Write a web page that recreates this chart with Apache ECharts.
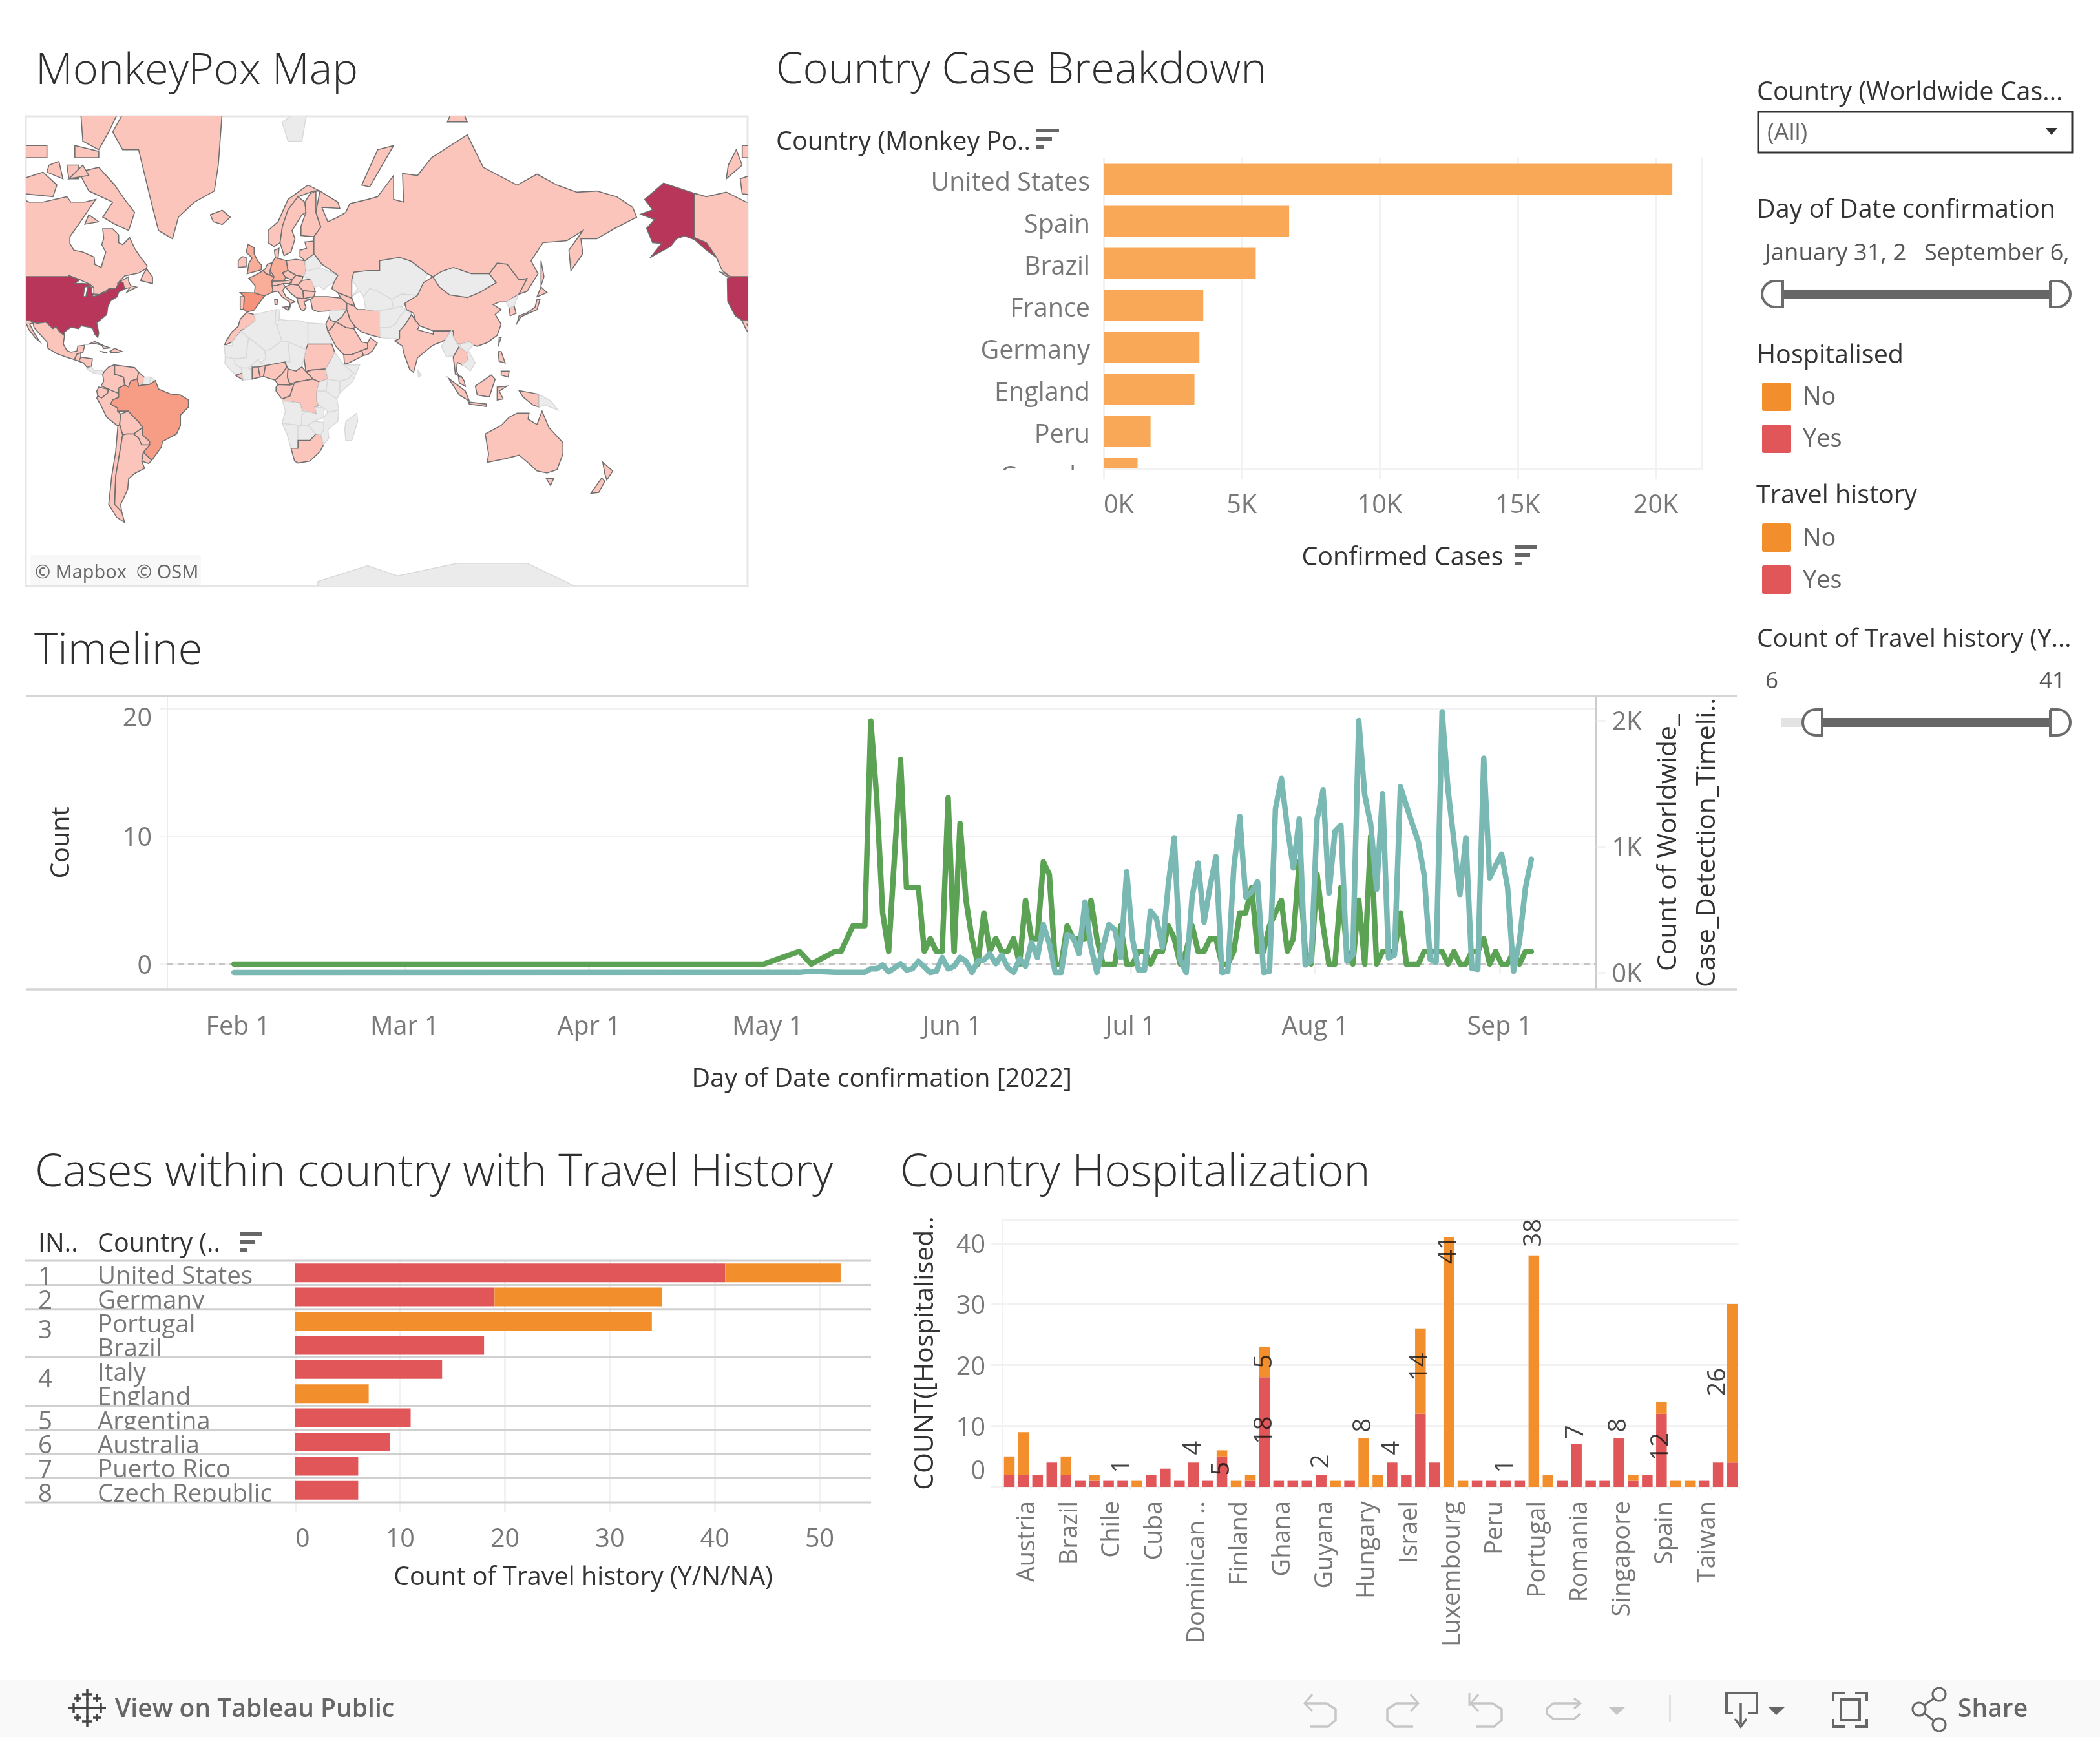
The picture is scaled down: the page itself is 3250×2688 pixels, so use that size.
<!DOCTYPE html>
<html><head><meta charset="utf-8">
<style>html,body{margin:0;padding:0;background:#fff}#c{width:3250px;height:2688px}</style>
<script src="https://cdn.jsdelivr.net/npm/echarts@6/dist/echarts.min.js"></script>
</head><body><div id="c"></div>
<script>
const FONT = '"Open Sans"';
const GREY_TXT = '#787878', DARK_TXT = '#333333';
const RED = '#e15759', ORANGE = '#f28e2b', BAR_LIGHT = '#f9a857', GRID = '#f2f2f2';

/* Country Case Breakdown */
const caseCountries = ['United States','Spain','Brazil','France','Germany','England','Peru','Canada'];
const caseValues = [20600,6720,5510,3610,3470,3290,1700,1230];

/* Timeline: [days from 1 June 2022, value] */
const greenPoints = [[-121,0],[-32,0],[-26,1],[-24,0],[-20,1],[-19,1],[-17,3],[-15,3],[-14,19],[-13,13],[-12,4],[-11,1],[-9,16],[-8,6],[-6,6],[-5,1],[-4,2],[-3,1],[-2,1],[-1,13],[0,1],[1,11],[2,5],[3,2],[4,0],[5,4],[6,1],[7,2],[8,1],[9,1],[10,2],[11,0],[12,5],[13,2],[14,2],[15,8],[16,7],[17,0],[18,0],[19,3],[20,2],[21,2],[22,2],[23,5],[24,2],[25,0],[26,0],[27,0],[28,3],[29,0],[30,0],[31,1],[32,1],[33,0],[34,1],[35,1],[36,3],[37,2],[38,0],[39,1],[40,3],[41,1],[42,1],[43,2],[44,2],[45,0],[46,0],[47,1],[48,4],[49,4],[50,6],[51,1],[52,1],[53,3],[54,4],[55,5],[56,1],[57,2],[58,8],[59,1],[60,0],[61,7],[62,3],[63,0],[64,0],[65,6],[66,1],[67,0],[68,5],[69,0],[70,10],[71,0],[72,1],[73,1],[74,1],[75,4],[76,0],[77,0],[78,0],[79,1],[80,1],[81,1],[82,1],[83,0],[84,1],[85,0],[86,0],[87,1],[88,1],[89,2],[90,0],[91,1],[92,0],[93,0],[94,1],[95,0],[96,1],[97,1]];
const tealPoints = [[-121,0],[-32,2],[-26,1],[-24,10],[-20,2],[-15,2],[-14,30],[-13,30],[-12,60],[-11,5],[-9,70],[-8,20],[-7,30],[-6,90],[-4,0],[-3,10],[-2,120],[-1,30],[0,50],[1,120],[2,90],[3,0],[4,90],[5,100],[6,150],[7,70],[8,140],[9,40],[10,0],[11,110],[12,50],[13,240],[14,120],[15,380],[16,230],[17,0],[18,0],[19,300],[20,280],[21,150],[22,560],[23,200],[24,0],[25,200],[26,380],[27,340],[28,120],[29,800],[30,260],[31,20],[32,20],[33,490],[34,430],[35,200],[36,700],[37,1070],[38,100],[39,0],[40,600],[41,870],[42,400],[43,680],[44,920],[45,0],[46,10],[47,830],[48,1240],[49,600],[50,640],[51,720],[52,0],[53,10],[54,1300],[55,1540],[56,1150],[57,830],[58,1220],[59,60],[60,90],[61,1220],[62,1450],[63,630],[64,1120],[65,1170],[66,90],[67,140],[68,2000],[69,1410],[70,1180],[71,660],[72,1420],[73,115],[74,140],[75,1475],[76,1325],[77,1180],[78,1040],[79,770],[80,105],[81,80],[82,2070],[83,1450],[84,1040],[85,620],[86,1070],[87,35],[88,25],[89,1700],[90,750],[91,850],[92,940],[93,680],[94,10],[95,245],[96,670],[97,900]];
const monthTicks = [[1,'Feb 1'],[2,'Mar 1'],[3,'Apr 1'],[4,'May 1'],[5,'Jun 1'],[6,'Jul 1'],[7,'Aug 1'],[8,'Sep 1']];

/* Cases within country with Travel History */
const travelCountries = ['United States','Germany','Portugal','Brazil','Italy','England','Argentina','Australia','Puerto Rico','Czech Republic'];
const travelYes = [41,19,0,18,14,0,11,9,6,6];
const travelNo  = [11,16,34,0,0,7,0,0,0,0];
const travelRanks = [[1,0,1],[2,1,2],[3,2,4],[4,4,6],[5,6,7],[6,7,8],[7,8,9],[8,9,10]];

/* Country Hospitalization */
const hospCountries = ['Argentina','Austria','Belgium','Bolivia','Brazil','Bulgaria','Canada','Chile','Colombia','Costa Rica','Cuba','Curacao','Czech Republic','Dominican Republic','Ecuador','England','Finland','France','Germany','Ghana','Gibraltar','Greece','Guyana','Honduras','Hong Kong','Hungary','Iceland','Ireland','Israel','Italy','Japan','Luxembourg','Malta','Mexico','Peru','Philippines','Poland','Portugal','Puerto Rico','Qatar','Romania','Russia','Serbia','Singapore','Slovakia','Slovenia','Spain','Sweden','Switzerland','Taiwan','Turkey','United States'];
const hospYes = [2,2,2,4,2,1,1,1,1,0,2,3,1,4,1,5,0,1,18,1,1,1,2,0,1,0,0,4,2,12,4,0,0,1,1,1,1,0,0,1,7,1,1,8,1,2,12,0,0,1,4,4];
const hospNo  = [3,7,0,0,3,0,1,0,0,1,0,0,0,0,0,1,1,1,5,0,0,0,0,1,0,8,2,0,0,14,0,41,1,0,0,0,0,38,2,0,0,0,0,0,1,0,2,1,1,0,0,26];
/* [bar index, height on the value axis at which the mark label sits, text] */
const hospLabels = [[8,3.4,'1'],[13,6.4,'4'],[15,3,'5'],[18,9.3,'18'],[18,20.6,'5'],[22,4.2,'2'],[25,10.1,'8'],[27,6.4,'4'],[29,19.7,'14'],[31,38.9,'41'],[35,3.4,'1'],[37,41.7,'38'],[40,9,'7'],[43,10.1,'8'],[46,6.6,'12'],[50,17.2,'26']];

/* Map: [name, confirmed cases or null, rings of lon,lat ...] */
const mapRegions = [
['Canada',1230,[[-123,49],[-95,49],[-95,49.4],[-89.5,48],[-84.5,46.5],[-82.5,45.3],[-82.4,43],[-79,42.8],[-79,43.3],[-76.5,44],[-74.7,45],[-71.5,45],[-70,46.7],[-69,47.4],[-67.8,47],[-67.8,45.7],[-67,44.9],[-64.5,45.3],[-66,43.6],[-61,45.5],[-64,46],[-65,47.5],[-65,49],[-70,47.2],[-67,49.3],[-60,50.2],[-56,51.7],[-55.7,52.5],[-59,55],[-62,57.5],[-64.5,60.3],[-68,58.5],[-70,59],[-70,61],[-73,62.4],[-78,62.4],[-77.5,60],[-78.5,58.5],[-76.5,56.5],[-78.8,52],[-82,52.9],[-82.3,55.1],[-88,56.5],[-92.5,57],[-94.5,58.8],[-94.5,60.5],[-90,63.5],[-86,66],[-81.5,68.5],[-87,68],[-94,68],[-96,69],[-108,68],[-115,68],[-125,69.8],[-135,69],[-141,69.6],[-141,60.3],[-135,59],[-130,55],[-127,51]],
 [[-62,66],[-65,62],[-72,63.5],[-78,65],[-73,68],[-85,70],[-90,73],[-80,73.7],[-72,71],[-67,68.5]],[[-117,69.5],[-103,69],[-101,71],[-108,73],[-118,72]],[[-125,72],[-117,74],[-120,76],[-124,74]],[[-62,82.5],[-75,78],[-80,76],[-88,77],[-90,82],[-70,83]],[[-80,75],[-92,75],[-92,76.5],[-80,75.8]],[[-59,47.7],[-53,46.7],[-53,49],[-56,51.5],[-58,49.5]],[[-90,72],[-95,72],[-96,74],[-90,74]],[[-106,75],[-117,75],[-117,76.5],[-106,76.5]],[[-80,64],[-87,63.5],[-85,65.5]],[[-128,50.5],[-123.5,48.5],[-125,50]],[[-100,74.5],[-105,74],[-106,73],[-98,72]],[[-85,72.5],[-95,72],[-88,74]]],
['United States',20600,[[-124.5,48.4],[-123,49],[-95,49],[-95,49.4],[-89.5,48],[-92,46.7],[-88,46.8],[-85,46.5],[-84.5,46],[-87,45.5],[-87.8,42],[-86.5,42],[-85.5,45.7],[-83.5,45.5],[-83.5,43.5],[-82.5,43],[-83.3,42],[-79,42.8],[-79,43.3],[-76.5,43.6],[-74.7,45],[-71.5,45],[-70,46.7],[-69,47.4],[-67.8,47],[-67,44.9],[-70,43.7],[-70.7,42],[-74,40.5],[-75.5,38],[-76,35],[-81,31.5],[-80,27],[-80.5,25],[-82,26.5],[-83,29],[-85,29.7],[-89,30.3],[-90,29],[-94,29.6],[-97.3,27.5],[-97.2,25.9],[-99.5,27.5],[-101.5,29.8],[-103,29],[-106.5,31.8],[-111,31.3],[-114.8,32.5],[-117.1,32.5],[-120.5,34.5],[-122.5,37.5],[-124.3,40.3]],
 [[-141,69.6],[-156.5,71.3],[-166,68.5],[-162,66.5],[-168,65.6],[-161,64.5],[-165,62.5],[-162,59],[-157.5,58.8],[-163,55],[-153,58],[-150,60],[-146,60.7],[-141,59.8],[-135,57],[-130,55],[-135,59],[-141,60.3]]],
['Greenland',1,[[-73,78],[-60,82],[-30,83.5],[-18,80],[-20,74],[-22,70],[-32,68],[-40,65],[-43,60],[-50,62],[-53,67],[-55,70],[-60,76],[-68,76]]],
['Iceland',1,[[-24,65.5],[-18,66.4],[-14,65],[-18,63.4],[-22.5,64]]],
['Mexico',1,[[-117.1,32.5],[-114.8,32.5],[-111,31.3],[-106.5,31.8],[-103,29],[-101.5,29.8],[-99.5,27.5],[-97.2,25.9],[-97.8,22],[-96,19],[-94,18.2],[-91,18.7],[-90.5,21],[-87,21.5],[-88,18],[-91,17.2],[-92.2,14.6],[-96,15.7],[-101,17.5],[-105.5,20],[-106,23],[-109,26],[-112.5,29.5],[-113,31.5],[-114.7,31],[-112,26.5],[-109.5,23],[-112,25],[-115,28.5]]],
['Guatemala',1,[[-92.2,14.6],[-91,17.2],[-89,17.9],[-89,15.8],[-88.3,15.7],[-90,13.8]]],
['Honduras',1,[[-89,15.8],[-83.2,15],[-83.7,11],[-86,11],[-87.7,13],[-90,13.8]]],
['Panama',null,[[-83.7,11],[-82,9],[-79.5,9.5],[-77.3,8.7],[-78,7.3],[-80,7.5],[-83,8.2],[-86,10]]],
['Cuba',1,[[-85,22],[-82,23.2],[-77,21],[-74.2,20.2],[-77.5,19.9],[-78.5,21.5],[-82,22.3]]],
['Hispaniola',1,[[-74.4,18.5],[-72,20],[-68.4,18.6],[-71,18],[-74,18]]],
['Jamaica',1,[[-78.3,18.4],[-76.3,18.1],[-77,17.8]]],
['Colombia',1,[[-77.3,8.7],[-75,11],[-72,12.2],[-72,7.5],[-67.5,6],[-67,2],[-70,0.5],[-70,-4],[-75,0],[-78.8,1.5],[-77.5,4],[-78,7.3]]],
['Venezuela',1,[[-72,12],[-62,10.7],[-60,8.5],[-60.7,5],[-64,4],[-65,1],[-67,2],[-67.5,6],[-72,7.5]]],
['Guyana',1,[[-60,8.5],[-57.2,6],[-58,2],[-60,1.5],[-60.7,5]]],
['Suriname',null,[[-57.2,6],[-54,6],[-54.5,2.3],[-58,2]],[[-54,6],[-51.6,4.2],[-54.5,2.3]]],
['Ecuador',1,[[-80,1],[-75.2,-0.1],[-75.5,-2],[-78.5,-4.5],[-80.5,-3.5],[-81,-1]]],
['Peru',1700,[[-81,-4.5],[-80.5,-3.5],[-78.5,-4.5],[-75.5,-2],[-75.2,-0.1],[-70,-2.2],[-70,-4.2],[-73,-5.5],[-74,-7.5],[-70.5,-9.5],[-70.5,-11],[-69,-12.5],[-69.5,-17.5],[-70.4,-18.3],[-76,-14],[-79,-8]]],
['Brazil',5510,[[-51.6,4.2],[-50,0],[-44,-2.5],[-39,-3],[-35,-5.5],[-35,-9],[-39,-13],[-39,-18],[-41,-22],[-48,-25.5],[-48.6,-28],[-53.4,-33.7],[-57.6,-30.2],[-54.5,-27],[-54.5,-25.5],[-58,-22.5],[-58,-19],[-60,-16.3],[-65.3,-11],[-70.5,-11],[-70.5,-9.5],[-74,-7.5],[-73,-5.5],[-70,-4.2],[-70,0.5],[-67,2],[-65,1],[-64,4],[-60.7,5],[-60,1.5],[-58,2],[-54.5,2.3]]],
['Bolivia',1,[[-69,-12.5],[-65.3,-11],[-60,-16.3],[-58,-19],[-62.5,-22],[-66,-22],[-68,-22.5],[-69.5,-17.5]]],
['Paraguay',1,[[-62.5,-22],[-58,-19],[-58,-22.5],[-54.5,-25.5],[-54.5,-27],[-58.5,-27],[-60,-24]]],
['Chile',1,[[-70.4,-18.3],[-69.5,-17.5],[-68,-22.5],[-70,-33],[-71.5,-40],[-72,-50],[-68.5,-52.3],[-67,-55.5],[-71,-54],[-75,-50],[-73.5,-40],[-71.5,-30]]],
['Argentina',1,[[-66,-22],[-62.5,-22],[-60,-24],[-58.5,-27],[-54.5,-27],[-57.6,-30.2],[-58.4,-34],[-57,-37],[-62,-39],[-65,-41],[-65.5,-45],[-69,-50],[-68.5,-52.3],[-72,-50],[-71.5,-40],[-70,-33],[-68,-22.5]]],
['Uruguay',1,[[-57.6,-30.2],[-53.4,-33.7],[-55,-35],[-58.4,-34]]],
['Morocco',1,[[-5.9,35.8],[-2,35],[-1.2,32.5],[-5,30],[-8.7,28],[-13,23],[-17,21.3],[-16,23.5],[-13,27.7],[-10,30],[-9,33]]],
['Algeria',null,[[-2,35],[9,37],[8.5,32],[9.5,30],[12,23.5],[6,19.5],[3.3,19],[-4.8,25],[-8.7,27.7],[-5,30],[-1.2,32.5]]],
['Tunisia',null,[[9,37],[11,37],[10.5,33],[8.5,32]]],
['Libya',null,[[10.5,33],[15,32.5],[20,32.5],[25,31.5],[25,20],[24,19.5],[15,23],[12,23.5],[9.5,30]]],
['Egypt',null,[[25,31.5],[34,31],[35,28],[37,22],[25,22]]],
['Sudan',1,[[25,22],[37,22],[38.5,18],[36.5,14.3],[34,10],[27,9.5],[24,8.7],[23,15.5],[24,19.5]]],
['South Sudan',1,[[24,8.7],[27,9.5],[34,10],[35,5],[30.8,3.5],[27.5,5]]],
['Mauritania',null,[[-17,21.3],[-13,21.3],[-13,23],[-8.7,27.7],[-4.8,25],[-6,15.5],[-12,15],[-16.5,16]]],
['Mali',null,[[-12,15],[-6,15.5],[-4.8,25],[3.3,19],[4,15],[0,14.8],[-5,10.5],[-8.5,10.5],[-11.5,12.3]]],
['Niger',null,[[3.3,19],[6,19.5],[12,23.5],[15,23],[16,13.5],[13.5,13.5],[3.7,11.7],[1,13.5],[4,15]]],
['Chad',null,[[15,23],[24,19.5],[23,15.5],[22,11],[19,9],[15,10],[13.8,13],[16,13.5]]],
['Senegal',null,[[-16.5,16],[-12,15],[-11.5,12.3],[-8.5,10.5],[-8,8],[-11,6.8],[-13.3,9],[-16.7,12.5]]],
['Liberia',1,[[-11.4,6.9],[-8,8],[-7.5,4.5]]],
['Ivory Coast',null,[[-8,8],[-8.5,10.5],[-5,10.5],[-3,9],[-3,5],[-7.5,4.5]]],
['Burkina Faso',null,[[-5,10.5],[0,14.8],[2.4,11.5],[-3,9.8]]],
['Ghana',1,[[-3,5],[-3,11],[0,11],[1,6]]],
['Benin',1,[[1,6],[0,11],[3.7,11.7],[2.7,6.3]]],
['Nigeria',1,[[2.7,6.3],[3.7,11.7],[13.5,13.5],[14.5,11],[11.5,7],[8.5,4.5],[5,5.5]]],
['Cameroon',1,[[8.5,4.5],[11.5,7],[14.5,11],[13.5,13],[15,10],[14.7,6],[16,2],[10,2.2]]],
['Central African Republic',1,[[14.7,6],[15,10],[19,9],[22,11],[27.5,5],[19,3.5],[16,2.5]]],
['Congo',1,[[9,1],[10,2.2],[16,2],[18,2.5],[16,-3.5],[12,-5],[9,-1]]],
['DR Congo',1,[[12,-5],[16,-3.5],[18,2.5],[19,3.5],[27.5,5],[30.8,3.5],[29.5,-1],[29.5,-6],[30.5,-8.3],[28.5,-9],[29.5,-12.5],[27,-11.8],[22,-11],[21,-7],[13,-6]]],
['Angola',null,[[12,-5],[13,-6],[21,-7],[22,-11],[24,-11],[22,-13],[21.7,-18],[12,-17],[13.7,-11]]],
['Namibia',null,[[12,-17],[21.7,-18],[25,-17.8],[20,-18.5],[20,-28.5],[16.5,-28.5],[14.5,-22]]],
['Botswana',null,[[20,-18.5],[25,-17.8],[29,-22],[26,-25],[20,-25]]],
['South Africa',1,[[16.5,-28.5],[20,-28.5],[20,-25],[26,-25],[29,-22],[31.5,-22.3],[32.9,-26.8],[31,-30],[26,-34],[20,-34.8],[18.3,-34]]],
['Zambia',null,[[22,-11],[27,-11.8],[29.5,-12.5],[28.5,-9],[33,-9.5],[33,-14],[28,-16],[25,-17.8],[21.7,-18],[22,-13],[24,-11]]],
['Zimbabwe',null,[[25,-17.8],[28,-16],[33,-16.5],[33,-20],[31.5,-22.3],[29,-22]]],
['Mozambique',null,[[33,-14],[35,-11.5],[40.5,-10.5],[40,-16],[35,-20],[35.5,-24],[32.9,-26.8],[31.5,-22.3],[33,-20],[33,-16.5]]],
['Tanzania',null,[[29.5,-6],[29.5,-1],[34,-1],[39.5,-5],[40.5,-10.5],[35,-11.5],[33,-9.5],[30.5,-8.3]]],
['Kenya',null,[[34,-1],[35,5],[41,4],[41,-2],[39.5,-5]]],
['Uganda',null,[[29.5,-1],[30.8,3.5],[35,5],[34,-1]]],
['Ethiopia',null,[[34,10],[36.5,14.3],[38.5,18],[43,12],[48,8],[45,5],[41,4],[35,5]]],
['Somalia',null,[[43,12],[51,12],[47.5,4],[41,-2],[41,4],[45,5],[48,8]]],
['Madagascar',null,[[44,-16],[49.5,-12],[50,-16],[47,-25],[44,-25],[43.5,-20]]],
['Spain',6720,[[-9,43.5],[-1.8,43.4],[3.2,42.3],[0,39],[-2,36.8],[-5.5,36],[-7.3,37.2],[-7,42]]],
['Portugal',1,[[-9,42],[-7,42],[-7.3,37.2],[-9,37]]],
['France',3610,[[-1.8,43.4],[3.2,42.3],[7.5,43.8],[7,47.5],[8,49],[4,50],[2.5,51],[-1.5,49.5],[-4.7,48.5],[-1.5,46]]],
['England',3290,[[-5.5,50],[1.5,51.2],[1.7,52.7],[-0.2,54],[-2,56],[-2,57.6],[-5,58.6],[-6,56.5],[-3,54.8],[-4.7,53.2],[-5,51.7]]],
['Ireland',1,[[-10,52],[-6,52.2],[-6,55],[-8,55.2],[-10,54]]],
['Germany',3470,[[7,47.5],[13,47.6],[13.8,48.8],[12.2,50.3],[15,51],[14.2,54],[10,54.7],[8.6,54.9],[7,53.4],[6,51],[8,49]]],
['Benelux',1,[[2.5,51],[4,50],[6,49.5],[6,51],[7,53.4],[4.7,53],[3.4,51.4]]],
['Austria',1,[[7,47.5],[13,47.6],[17,48],[16,46.8],[12.5,46.7],[9,46],[7,46]]],
['Italy',1,[[7.5,43.8],[7,46],[9,46],[12.5,46.7],[13.7,45.6],[12.3,44.3],[14,42],[18.5,40],[16.5,39.5],[16,38],[15.7,40],[12,42],[10,44]],[[12.5,38],[15.5,38.2],[15,36.7]],[[8.3,41],[9.7,41],[9.5,39],[8.5,39]]],
['Poland',1,[[14.2,54],[15,51],[19,49.5],[23,49],[24,50.8],[23.5,54],[19,54.4]]],
['Czech Republic',1,[[12.2,50.3],[15,51],[19,49.5],[17,48],[13.8,48.8]]],
['Hungary',1,[[17,48],[19,49.5],[22.5,49],[22,47.8],[20,46.2],[16.5,46.5]]],
['Balkans',1,[[13.7,45.6],[16.5,46.5],[20,46.2],[22.5,44.3],[22.8,41.3],[19.5,41.5],[16,43.5]]],
['Romania',1,[[20,46.2],[22,47.8],[26.5,48.2],[28.2,45.5],[28.6,43.8],[22.5,44.2]]],
['Bulgaria',1,[[22.5,44.2],[28.6,43.8],[28,42],[22.8,41.3]]],
['Greece',1,[[19.5,41.5],[20,39.7],[21.5,37],[23,36.5],[24,38],[23,40],[26.3,41],[22.8,41.3]]],
['Ukraine',null,[[23,49],[24,50.8],[31,52],[40,49.5],[38,47],[35,46],[33,44.5],[30.5,46],[28.2,45.5],[26.5,48.2]]],
['Belarus',null,[[24,50.8],[23.5,54],[28,56],[32,53],[31,52]]],
['Baltics',1,[[21,55.3],[23.5,54],[28,56],[28,59.4],[23.5,59.2],[24.3,57.5],[21,57]]],
['Norway',1,[[5,59],[8,58],[11,59],[12.2,63],[15,66.5],[20,69],[28,70],[31,70],[25,71],[15,68.5],[10,64],[5,62]]],
['Sweden',1,[[11,59],[13,55.5],[16.5,56.5],[18.5,60],[17,62],[22,65.5],[24,66],[23.5,68],[20,69],[15,66.5],[12.2,63]]],
['Finland',1,[[24,66],[21.5,63],[21.5,60.8],[28,60.5],[31.5,62.8],[29,66],[29,70],[26,69.5],[23.5,68]]],
['Denmark',1,[[8.6,54.9],[10,54.7],[10.5,57.5],[8.2,57]]],
['Turkey',1,[[26.3,41],[28,42],[35,42],[41.5,41.5],[44.5,39.5],[44.5,37],[36,36.5],[30,36.2],[27.3,37]]],
['Iran',1,[[44.5,39.5],[48,38.5],[50,37],[54,37],[61,36.5],[61,31.5],[63,27],[61.5,25],[57,26],[52,27.5],[48.5,30],[46,33],[44.5,37]]],
['Saudi Arabia',1,[[36.5,29],[39,32],[44,29.5],[48,29],[50,26],[52,23],[55,22.5],[55,20],[52,19],[47,17],[43,17],[39,21],[35,28]]],
['Oman',1,[[52,19],[55,20],[55,22.5],[56.3,25],[59.8,22.5],[57.5,19],[55,17],[52.8,16.6]]],
['Yemen',1,[[43,17],[47,17],[52,19],[52.8,16.6],[45,12.7],[43.3,12.7]]],
['Syria',null,[[36,36.5],[44.5,37],[42,34],[39,32],[36.5,32.5],[35.7,34]]],
['Iraq',1,[[42,34],[44.5,37],[46,33],[48.5,30],[48,29],[44,29.5],[39,32]]],
['Israel',1,[[34,31],[35.7,34],[36.5,32.5],[39,32],[36.5,29],[35,28]]],
['Kazakhstan',null,[[47,42],[50,45],[47,48],[48,50.5],[55,51],[61,51],[61,54],[71,55],[77,53.8],[85,50],[83,47],[80,42.5],[72,43],[67,41],[60,44],[56,45],[53,42],[51,44]]],
['Uzbekistan',null,[[53,42],[56,45],[60,44],[67,41],[72,41],[68,37.5],[61,36.5],[54,37]]],
['Kyrgyzstan',null,[[67,41],[72,43],[80,42.5],[74,39],[70,37],[68,37.5]]],
['Afghanistan',null,[[61,36.5],[68,37.5],[71,38.3],[74.5,37],[71,34],[69,31],[66,29.5],[61,29.5]]],
['Pakistan',null,[[61,29.5],[66,29.5],[69,31],[71,34],[74.5,37],[77,35],[74,31],[71,28],[71,24.5],[67,24.5],[61.5,25]]],
['Georgia',1,[[40,43.5],[47,41.5],[48.5,38.5],[44.5,39.5],[41.5,41.5]]],
['Mongolia',null,[[87.7,49],[92,50.7],[98,52],[107,50],[116,50],[119.5,47],[111,43.5],[105,41.7],[96,42.7],[91,45.5]]],
['China',1,[[73.6,39.5],[80,42.5],[83,47],[87.7,49],[91,45.5],[96,42.7],[105,41.7],[111,43.5],[119.5,47],[116,50],[120,53.3],[125,53],[131,48],[135,48.4],[131,43],[124.5,40],[121,40],[118,39],[122,37],[119,35],[122,31],[120,26],[115,22.7],[110,21],[108,21.6],[106,23],[102,22],[100,22],[98,25],[98,28],[92,28],[88,28],[81,30.3],[79,32.5],[78,35.5],[74.5,37]]],
['Russia',1,[[28,59.4],[28,56],[32,53],[40,49.5],[38,47],[37,45],[40,43.5],[47,41.5],[47,45],[47,48],[48,50.5],[55,51],[61,51],[61,54],[71,55],[77,53.8],[85,50],[87.7,49],[92,50.7],[98,52],[107,50],[116,50],[120,53.3],[125,53],[131,48],[135,48.4],[131,43],[135,44],[140.5,50],[137,54],[143,59],[155,59.5],[163,62],[156,57],[157,51],[163,56],[162,60],[170,60],[179,62.5],[190,65],[188,67],[180,69],[170,70],[160,69.8],[150,71],[140,72.7],[130,71],[113,73.7],[105,77.7],[87,75],[80,72.5],[72.5,72.8],[73,68],[68,68.5],[68,72.5],[60,69],[55,68.5],[46,67.7],[44,66],[40,65],[35,64],[32,67],[41,66.8],[40,68],[31,70],[29,66],[31.5,62.8],[28,60.5]],[[52,71],[56,70.7],[68,76.5],[60,76]],[[142,54],[143.5,49],[142,46],[142,50]],[[95,79],[105,79],[100,81]]],
['India',1,[[68.5,23.5],[71,24.5],[71,28],[74,31],[77,35],[79,32.5],[81,30.3],[80,28.5],[88,26.5],[88,28],[92,28],[97,28],[94,24],[92,23],[89,22],[87,21],[80,15.5],[78,8.3],[76,10],[73,18],[72.5,21]]],
['Myanmar',null,[[94,24],[97,28],[98,25],[100,22],[101,21],[98,16],[98.7,10],[97.5,16.5],[94.5,16],[92,21]]],
['Thailand',1,[[98,16],[101,21],[105,18],[105.5,14.5],[102.5,12],[100,13.3],[99.5,9],[101,6.5],[99,7.5],[98.7,10]]],
['Vietnam',null,[[102,22],[106,23],[108,21.6],[105.5,19],[109,13],[106.5,9],[104.8,10.5],[102.5,12],[105.5,14.5],[105,18],[101,21]]],
['Malaysia',1,[[100.5,6.5],[102,6.3],[103.5,4],[104,1.4],[101,3]]],
['Borneo',1,[[109,1.5],[117,7],[119,5],[117.5,0.5],[116,-4],[110,-3]]],
['Indonesia',1,[[95.5,5.5],[104,-1],[106,-6],[101,-3]],[[105.5,-6.5],[114.5,-7.5],[114.5,-8.7],[106,-7.5]],[[120,1],[125,1.5],[121,-1],[123,-5],[120,-5.5]],[[131,-0.8],[141,-2.6],[141,-9],[138,-8],[133,-4]]],
['Papua New Guinea',null,[[141,-2.6],[147,-6],[150.5,-10.5],[144,-8],[141,-9]]],
['Philippines',1,[[120.5,18.5],[122,18.5],[124,13],[121,13.7]],[[122,9],[126,9],[125.5,6],[122,7]]],
['Taiwan',1,[[121,25],[122,25],[120.8,22]]],
['Japan',1,[[130,31.5],[131.8,34],[136,35.6],[140,37],[141.5,41],[140,41],[139,38],[135,35.7],[131,34.5]],[[140,42],[145,43.5],[142,45.5]]],
['Sri Lanka',null,[[80,9.5],[82,7],[80.5,6]]],
['South Korea',1,[[126,37.7],[128.5,38.5],[129.5,35.5],[126.5,34.5]]],
['North Korea',null,[[124.5,40],[130.5,42.5],[128.5,38.5],[126,37.7]]],
['Australia',1,[[114,-22],[122,-18],[126,-14],[130,-12],[136,-12],[135.5,-15],[140,-17.5],[142.5,-11],[146,-19],[153,-26],[153,-31],[150,-37.5],[145,-38.8],[140,-38],[136,-35],[131,-31.5],[124,-33],[115,-34.5],[115.7,-31]],[[144.7,-41],[148.3,-41],[146.8,-43.5]]],
['New Zealand',1,[[173,-34.5],[178,-38],[175,-41.5],[174,-39]],[[172.5,-40.7],[174,-42],[171,-46],[167,-46.3]]],
['Antarctica',null,[[30,-69],[55,-66],[70,-68],[100,-65.5],[135,-65.5],[160,-70],[165,-78],[30,-78]]],
['Svalbard',null,[[12,79],[25,80.5],[22,77],[15,77]]]
];

function mapColor(c){
  if (c === null) return '#ebebeb';
  if (c >= 20000) return '#b8365a';
  if (c >= 6000) return '#f6937a';
  if (c >= 5000) return '#f79c85';
  if (c >= 3000) return '#f9ae9a';
  return '#fbc5bc';
}
const merc = lat => Math.log(Math.tan(Math.PI/4 + lat*Math.PI/360));
const WRAPS = [0, 360];
const mapItems = [];
mapRegions.forEach((r,i)=>WRAPS.forEach(off=>mapItems.push([i,off])));

const JUN1 = Date.UTC(2022,5,1);
const DAY = 86400000;
const PXDAY = 9.21;
const dayTs = d => JUN1 + d*DAY + 8*3600000;
const tlMin = JUN1 + (259-1473.5)/PXDAY*DAY;
const tlMax = JUN1 + (2470.5-1473.5)/PXDAY*DAY;
const tickTs = monthTicks.map(m=>Date.UTC(2022,m[0],1));
const tickLbl = {}; monthTicks.forEach((m,i)=>{tickLbl[tickTs[i]]=m[1];});

function T(x,y,text,size,fill,extra){
  return Object.assign({type:'text',x,y:y+2,z:20,style:{text,fill:fill||DARK_TXT,font:(extra&&extra.weight||'400')+' '+size+'px '+FONT,textAlign:(extra&&extra.align)||'left',textVerticalAlign:'middle'}},extra&&extra.el||{});
}
function R(x,y,w,h,fill,extra){return Object.assign({type:'rect',z:20,shape:{x,y,width:w,height:h},style:{fill}},extra||{});}
function L(pts,stroke,w){return {type:'polyline',z:20,shape:{points:pts},style:{stroke,lineWidth:w||3,fill:null}};}
function sortIcon(x,y){return [R(x,y,35,6,'#666'),R(x,y+13,24,6,'#666'),R(x,y+26,11,6,'#666')];}
function handle(x0,x1,yc,left){
  return {type:'rect',z:21,shape:{x:x0,y:yc-20,width:x1-x0,height:40,r:left?[20,0,0,20]:[0,20,20,0]},style:{fill:'#fff',stroke:'#6b6b6b',lineWidth:4}};
}
function swatch(y,color){return {type:'rect',z:20,shape:{x:2727,y,width:45,height:44,r:3},style:{fill:color}};}
const toolD='#666666', toolL='#c6c6c6';
function undoIcon(x,flip,c){
  const X=v=>flip?x+52-v:x+v;
  return [L([[X(14),2622],[X(2),2636],[X(14),2648]],c,3),
          L([[X(2),2636],[X(36),2636],[X(50),2645],[X(50),2662],[X(38),2672],[X(10),2672]],c,3.5)];
}
const graphics = [
  {type:'rect',z:5,shape:{x:1300,y:727.5,width:1350,height:40},style:{fill:'#fff'}},
  R(46,859,265,47,'#f8f8f8'),T(54,885,'© Mapbox  © OSM',29,'#666'),
  T(1201,219,'Country (Monkey Po..',39.5,DARK_TXT),...sortIcon(1604,199),...sortIcon(2344,843),
  T(59,1924,'IN..',39.5,DARK_TXT),T(151,1924,'Country (..',39.5,DARK_TXT),...sortIcon(371,1906),
  L([[40,1077],[2688,1077]],'#d4d4d4',3),L([[40,1531],[2688,1531]],'#d4d4d4',3.5),
  T(2719,142,'Country (Worldwide Cas...',39.5),
  {type:'rect',z:20,shape:{x:2721,y:173,width:486,height:63},style:{fill:'#fff',stroke:'#333',lineWidth:3}},
  T(2735,205,'(All)',36,'#666'),
  {type:'polygon',z:21,shape:{points:[[3166,198],[3184,198],[3175,209]]},style:{fill:'#333'}},
  T(2719,324,'Day of Date confirmation',39.5),
  T(2731,391,'January 31, 2',36.5,'#555'),T(2978,391,'September 6,',36,'#555'),
  R(2759,448,414,14,'#666'),handle(2727,2759,455,true),handle(3173,3204,455,false),
  T(2719,549,'Hospitalised',39.5),
  swatch(592,ORANGE),T(2790,613,'No',38,'#666'),swatch(657,RED),T(2790,678,'Yes',38,'#666'),
  T(2718,766,'Travel history',39.5),
  swatch(810,ORANGE),T(2790,832,'No',38,'#666'),swatch(875,RED),T(2790,897,'Yes',38,'#666'),
  T(2719,988,'Count of Travel history (Y...',39),
  T(2732,1053,'6',35,'#555'),T(3196,1053,'41',35,'#555',{align:'right'}),
  R(2756,1111,40,14,'#e3e3e3'),R(2820,1111,353,14,'#666'),handle(2790,2820,1118,true),handle(3173,3204,1118,false),
  R(0,2600,3250,88,'#f9f9f9',{z:15}),
  T(178,2644,'View on Tableau Public',39,'#666',{weight:'600'}),
  ...[[135,2643,16],[135,2622,8],[135,2664,8],[114,2643,8],[156,2643,8],[120,2628,6],[150,2628,6],[120,2658,6],[150,2658,6]].flatMap(p=>[L([[p[0]-p[2],p[1]],[p[0]+p[2],p[1]]],'#444',3.5),L([[p[0],p[1]-p[2]],[p[0],p[1]+p[2]]],'#444',3.5)]),
  ...undoIcon(2017,false,toolL),...undoIcon(2145,true,toolL),...undoIcon(2274,false,toolL),
  L([[2274,2620],[2274,2640]],toolL,3),
  L([[2436,2628],[2446,2636],[2436,2644]],toolL,3),L([[2446,2636],[2404,2636],[2394,2644],[2394,2652],[2404,2660],[2436,2660],[2446,2652]],toolL,3.5),
  {type:'polygon',z:20,shape:{points:[[2489,2641],[2516,2641],[2502,2654]]},style:{fill:toolL}},
  L([[2584.5,2623],[2584.5,2665]],'#c8c8c8',2),
  L([[2682,2651],[2672,2651],[2672,2620],[2719,2620],[2719,2651],[2706,2651]],toolD,4),
  L([[2694,2635],[2694,2668]],toolD,3.5),L([[2685,2660],[2694,2672],[2703,2660]],toolD,3.5),
  {type:'polygon',z:20,shape:{points:[[2736,2641],[2763,2641],[2749,2654]]},style:{fill:toolD}},
  L([[2837,2632],[2837,2620],[2855,2620]],toolD,4),L([[2871,2620],[2889,2620],[2889,2632]],toolD,4),L([[2837,2660],[2837,2672],[2855,2672]],toolD,4),L([[2871,2672],[2889,2672],[2889,2660]],toolD,4),
  {type:'rect',z:20,shape:{x:2849,y:2630,width:29,height:32},style:{fill:null,stroke:toolD,lineWidth:4}},
  L([[3001,2622],[2970,2645],[3001,2669]],toolD,3),
  ...[[3001,2622],[2970,2645],[3001,2669]].map(p=>({type:'circle',z:21,shape:{cx:p[0],cy:p[1],r:10},style:{fill:'#f9f9f9',stroke:toolD,lineWidth:3}})),
  T(3030,2644,'Share',39,'#666',{weight:'600'})
];

const titles = [[55,111,'MonkeyPox Map',67],[1201,110,'Country Case Breakdown',67],[53,1008,'Timeline',69],[54,1816,'Cases within country with Travel History',69.5],[1393,1816,'Country Hospitalization',69.5]]
  .map(t=>({text:t[2],left:t[0],top:t[1]-38,padding:0,textStyle:{fontFamily:FONT,fontWeight:300,fontSize:t[3],color:'#2f2f2f',lineHeight:76}}));

const lblBase = {fontFamily:FONT,fontSize:39.5,color:GREY_TXT};
const nameBase = {fontFamily:FONT,fontSize:39.5,color:DARK_TXT};
const nameTall = {fontFamily:FONT,fontSize:41,color:DARK_TXT};
const gridLine = {show:true,lineStyle:{color:GRID,width:3}};
const travelTicks = [0,10,20,30,40,50];

const option = {
  animation:false,backgroundColor:'#fff',title:titles,graphic:{elements:graphics},
  grid:[
    {left:40,top:180,width:1117,height:727,show:true,borderColor:'#e6e6e6',borderWidth:3},
    {left:1708,top:245,width:925,height:520},
    {left:1708,top:245,width:925,height:481},
    {left:259,top:1077,width:2211.5,height:454},
    {left:457,top:1951,width:891,height:374},
    {left:1551,top:1887,width:1141,height:414}
  ],
  xAxis:[
    {gridIndex:0,type:'value',show:false,min:-116.6,max:245.7},
    {gridIndex:1,type:'value',min:0,max:21650,interval:5000,axisLabel:{show:false},axisLine:{show:false},axisTick:{show:false},splitLine:gridLine},
    {gridIndex:2,type:'value',z:10,min:0,max:21650,interval:5000,splitLine:{show:false},axisLine:{show:true,lineStyle:{color:GRID,width:3}},axisTick:{show:true,length:15,lineStyle:{color:GRID,width:3}},
      axisLabel:Object.assign({margin:37,alignMinLabel:'left',showMaxLabel:false,formatter:v=>(v/1000)+'K'},lblBase),
      name:'Confirmed Cases',nameLocation:'middle',nameGap:118,nameTextStyle:nameBase},
    {gridIndex:3,type:'value',min:tlMin,max:tlMax,splitLine:{show:false},axisLine:{show:false},
      axisTick:{show:true,customValues:tickTs,length:15,lineStyle:{color:GRID,width:3}},
      axisLabel:Object.assign({customValues:tickTs,margin:39,hideOverlap:false,formatter:v=>tickLbl[v]||''},lblBase),
      name:'Day of Date confirmation [2022]',nameLocation:'middle',nameGap:120,nameTextStyle:nameBase},
    {gridIndex:4,type:'value',min:0,max:54.9,splitLine:gridLine,axisLine:{show:false},axisTick:{show:true,customValues:travelTicks,length:15,lineStyle:{color:GRID,width:3}},
      axisLabel:Object.assign({customValues:travelTicks,margin:38,alignMinLabel:'left'},lblBase),
      name:'Count of Travel history (Y/N/NA)',nameLocation:'middle',nameGap:97,nameTextStyle:nameBase},
    {gridIndex:5,type:'category',data:hospCountries,axisLine:{show:false},axisTick:{show:true,length:5,alignWithLabel:false,interval:0,lineStyle:{color:'#eeeeee',width:2}},
      axisLabel:Object.assign({},lblBase,{fontSize:38,rotate:90,margin:22,interval:(i)=>i%3===1,formatter:v=>'{r|'+(v==='Dominican Republic'?'Dominican ..':v)+'}',rich:{r:Object.assign({},lblBase,{fontSize:38,padding:[12,0,0,0]})}})}
  ],
  yAxis:[
    {gridIndex:0,type:'value',show:false,min:-1.727,max:2.39},
    {gridIndex:1,type:'category',inverse:true,data:caseCountries,axisLine:{show:false},axisTick:{show:false},axisLabel:Object.assign({margin:21,formatter:v=>'{c|'+v+'}',rich:{c:Object.assign({padding:[12,0,0,0]},lblBase)}},lblBase)},
    {gridIndex:2,type:'value',show:false,min:0,max:1},
    {gridIndex:3,type:'value',position:'left',min:-1.97,max:20.96,splitLine:gridLine,axisLine:{show:true,lineStyle:{color:'#ececec',width:2}},
      axisTick:{show:true,customValues:[0,10,20],length:12,lineStyle:{color:GRID,width:3}},
      axisLabel:Object.assign({customValues:[0,10,20],margin:24,padding:[8,0,0,0],formatter:v=>v===20?'{t|20}':String(v),rich:{t:Object.assign({padding:[26,0,0,0]},lblBase)}},lblBase),
      name:'Count',nameLocation:'middle',nameGap:143,nameTextStyle:nameBase},
    {gridIndex:3,type:'value',position:'right',min:-133,max:2195,splitLine:{show:false},axisLine:{show:true,lineStyle:{color:'#cccccc',width:3}},
      axisTick:{show:true,customValues:[0,1000,2000],length:14,lineStyle:{color:GRID,width:3}},
      axisLabel:Object.assign({customValues:[0,1000,2000],margin:24,formatter:v=>'{k|'+(v/1000)+'K}',rich:{k:Object.assign({padding:[8,0,0,0]},lblBase)}},lblBase),
      name:'Count of Worldwide_\nCase_Detection_Timeli..',nameLocation:'middle',nameRotate:90,nameGap:82,nameTextStyle:Object.assign({lineHeight:60},nameTall)},
    {gridIndex:4,type:'category',inverse:true,data:travelCountries,axisLine:{show:false},axisTick:{show:false},axisLabel:{show:false}},
    {gridIndex:5,type:'value',min:0,max:43.9,interval:10,splitLine:gridLine,axisLine:{show:true,lineStyle:{color:GRID,width:3}},axisTick:{show:true,length:17,lineStyle:{color:GRID,width:3}},
      axisLabel:Object.assign({margin:26,padding:[8,0,0,0],formatter:v=>v===0?'{b|0}':String(v),rich:{b:Object.assign({padding:[0,0,54,0]},lblBase)}},lblBase),
      name:'COUNT([Hospitalised..',nameLocation:'middle',nameGap:98,nameTextStyle:nameTall}
  ],
  series:[
    {type:'custom',name:'Map',xAxisIndex:0,yAxisIndex:0,clip:true,data:mapItems,silent:true,
     renderItem:(p,api)=>{
       const r=mapRegions[api.value(0)],off=api.value(1),c=r[1];
       return {type:'group',children:r.slice(2).map(ring=>({type:'polygon',shape:{points:ring.map(q=>api.coord([q[0]+off,merc(q[1])]))},style:{fill:mapColor(c),stroke:c===null?'#d9d9d9':'#6f6f6f',lineWidth:c===null?1.5:1.6}}))};
     }},
    {type:'bar',name:'Confirmed Cases',xAxisIndex:1,yAxisIndex:1,data:caseValues,barWidth:48,itemStyle:{color:BAR_LIGHT},z:2},
    {type:'line',name:'Zero',xAxisIndex:3,yAxisIndex:3,data:[[tlMin,0],[tlMax,0]],symbol:'none',silent:true,lineStyle:{color:'#c6c6c6',width:2.5,type:[9,7]},z:1},
    {type:'line',name:'Count',xAxisIndex:3,yAxisIndex:3,data:greenPoints.map(p=>[dayTs(p[0]),p[1]]),symbol:'none',lineStyle:{color:'#5ca254',width:8.5,cap:'round',join:'round'},z:3},
    {type:'line',name:'Worldwide',xAxisIndex:3,yAxisIndex:4,data:tealPoints.map(p=>[dayTs(p[0]),p[1]]),symbol:'none',lineStyle:{color:'#79b8b3',width:8.5,cap:'round',join:'round'},z:4},
    {type:'bar',name:'Yes',stack:'t',xAxisIndex:4,yAxisIndex:5,data:travelYes.map(v=>v||null),barWidth:29,itemStyle:{color:RED},z:2},
    {type:'bar',name:'No',stack:'t',xAxisIndex:4,yAxisIndex:5,data:travelNo.map(v=>v||null),barWidth:29,itemStyle:{color:ORANGE},z:2},
    {type:'custom',name:'Rows',xAxisIndex:4,yAxisIndex:5,clip:false,silent:true,z:6,data:travelRanks,
     renderItem:(p,api)=>{
       const rank=api.value(0),a=api.value(1),b=api.value(2);
       const band=api.size([0,1])[1];
       const top=api.coord([0,a])[1]-band/2,bot=api.coord([0,b])[1]-band/2;
       const kids=[];
       const sep=y=>({type:'line',shape:{x1:39,y1:y,x2:1348,y2:y},style:{stroke:'#d0d0d0',lineWidth:3}});
       kids.push(sep(bot));
       if(a===0)kids.push(sep(top));
       const clipOf=(y)=>({type:'rect',shape:{x:-30,y:top-y,width:500,height:bot-top}});
       const ry=(top+bot)/2+(b-a>1?-3:7);
       kids.push({type:'text',x:59,y:ry,clipPath:clipOf(ry),style:{text:String(rank),fill:GREY_TXT,font:'400 38.5px '+FONT,textVerticalAlign:'middle'}});
       for(let i=a;i<b;i++){
         const y=api.coord([0,i])[1]+6.5;
         kids.push({type:'text',x:151,y,clipPath:clipOf(y),style:{text:travelCountries[i],fill:GREY_TXT,font:'400 38.5px '+FONT,textVerticalAlign:'middle'}});
       }
       return {type:'group',children:kids};
     }},
    {type:'bar',name:'Hosp Yes',stack:'h',xAxisIndex:5,yAxisIndex:6,data:hospYes.map(v=>v||null),barWidth:16.5,itemStyle:{color:RED},z:2},
    {type:'bar',name:'Hosp No',stack:'h',xAxisIndex:5,yAxisIndex:6,data:hospNo.map(v=>v||null),barWidth:16.5,itemStyle:{color:ORANGE},z:2},
    {type:'scatter',name:'Labels',xAxisIndex:5,yAxisIndex:6,data:hospLabels.map(l=>({value:[l[0],l[1]],label:{formatter:l[2]}})),symbolSize:2,itemStyle:{color:'rgba(0,0,0,0)'},z:5,silent:true,
     label:{show:true,position:'inside',rotate:90,fontFamily:FONT,fontSize:38,color:'#111',offset:[6,0]},labelLayout:{hideOverlap:false}}
  ]
};
const chart = echarts.init(document.getElementById('c'),null,{renderer:'canvas',width:3250,height:2688});
chart.setOption(option);
</script></body></html>
